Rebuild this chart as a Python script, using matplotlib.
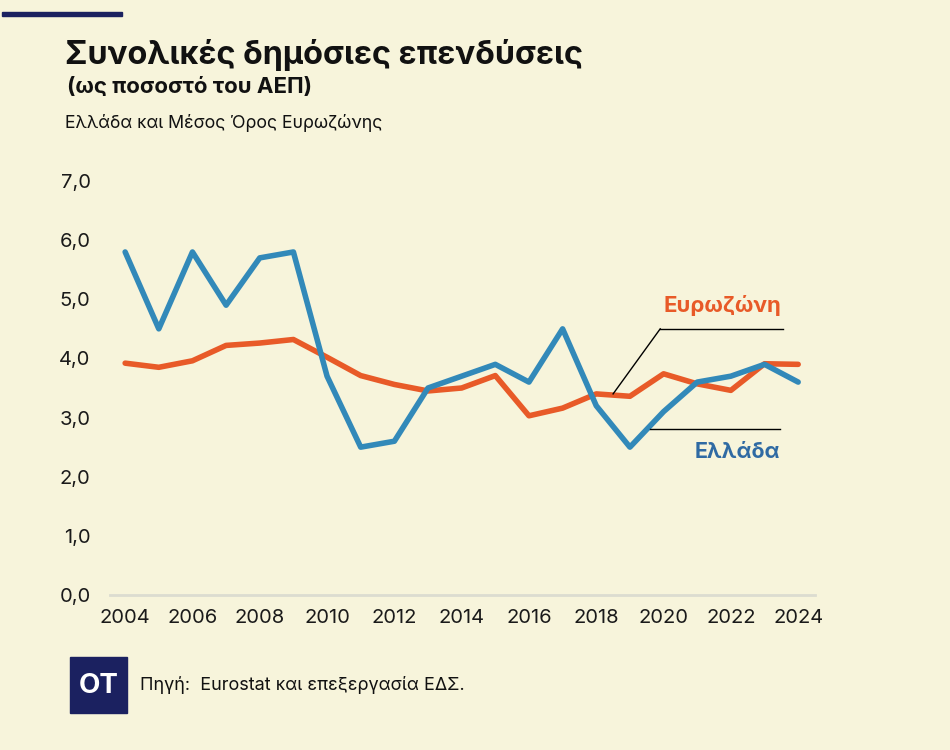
import matplotlib
matplotlib.use("Agg")
import matplotlib.pyplot as plt
from matplotlib.patches import Rectangle
from matplotlib.ticker import FuncFormatter, FixedLocator

years = list(range(2004, 2025))
greece = [5.8, 4.5, 5.8, 4.9, 5.7, 5.8, 3.7, 2.5, 2.6, 3.5, 3.7, 3.9, 3.6, 4.5, 3.2, 2.5, 3.1, 3.6, 3.7, 3.9, 3.6]
eurozone = [3.92, 3.85, 3.96, 4.22, 4.26, 4.32, 4.02, 3.71, 3.56, 3.45, 3.5, 3.71, 3.03, 3.16, 3.4, 3.36, 3.74, 3.57, 3.46, 3.91, 3.9]
yticks = [0, 1, 2, 3, 4, 5, 6, 7]
xticks = list(range(2004, 2025, 2))

BG = "#f7f4db"
BLUE = "#3289b9"
ORANGE = "#e85a28"
BLUE_TXT = "#2f6aa3"
NAVY = "#1b2160"

plt.rcParams['font.family'] = ['Inter', 'DejaVu Sans']

fig = plt.figure(figsize=(9.5, 7.5), dpi=100, facecolor=BG)
ax = fig.add_axes([110/950, 1-595/750, (815-110)/950, (595-181)/750])
ax.set_facecolor(BG)

ax.plot(years, eurozone, color=ORANGE, lw=4, solid_joinstyle='round', solid_capstyle='round', zorder=3)
ax.plot(years, greece, color=BLUE, lw=4, solid_joinstyle='round', solid_capstyle='round', zorder=4)

ax.set_xlim(2003.55, 2024.5)
ax.set_ylim(0, 7)
ax.yaxis.set_major_locator(FixedLocator(yticks))
ax.xaxis.set_major_locator(FixedLocator(xticks))
ax.yaxis.set_major_formatter(FuncFormatter(lambda v, p: f"{v:.1f}".replace('.', ',')))
ax.xaxis.set_major_formatter(FuncFormatter(lambda v, p: f"{int(v)}"))
for s in ['top', 'right', 'left']:
    ax.spines[s].set_visible(False)
ax.spines['bottom'].set_color('#dcdcd0')
ax.spines['bottom'].set_linewidth(2)
ax.tick_params(axis='both', length=0, labelsize=14.5, colors='#1a1a1a')
ax.tick_params(axis='y', pad=14)
ax.tick_params(axis='x', pad=10)

# annotations
ax.plot([2018.5, 2019.9], [3.40, 4.5], color='black', lw=1, zorder=5)
ax.plot([2019.9, 2023.55], [4.5, 4.5], color='black', lw=1, zorder=5)
ax.text(2023.5, 4.72, "Ευρωζώνη", color=ORANGE, fontsize=16, fontweight='bold', ha='right', va='bottom')
ax.plot([2019.6, 2023.47], [2.8, 2.8], color='black', lw=1, zorder=5)
ax.text(2023.47, 2.42, "Ελλάδα", color=BLUE_TXT, fontsize=15.5, fontweight='bold', ha='right', va='center')

# header
fig.add_artist(Rectangle((2/950, 1-16/750), 120/950, 4/750, color=NAVY, transform=fig.transFigure))
fig.text(65/950, 1-55/750, "Συνολικές δημόσιες επενδύσεις", fontsize=23.3, fontweight='bold', color='#111111', va='center')
fig.text(67/950, 1-87/750, "(ως ποσοστό του ΑΕΠ)", fontsize=16, fontweight='bold', color='#111111', va='center')
fig.text(65/950, 1-123/750, "Ελλάδα και Μέσος Όρος Ευρωζώνης", fontsize=12.8, color='#111111', va='center')

# footer
fig.add_artist(Rectangle((70/950, 1-713/750), 57/950, 56/750, color=NAVY, transform=fig.transFigure))
fig.text(98.5/950, 1-686/750, "ΟΤ", fontsize=20, fontweight='bold', color='white', ha='center', va='center')
fig.text(140/950, 1-685/750, "Πηγή:  Eurostat και επεξεργασία ΕΔΣ.", fontsize=13, color='#111111', va='center')

fig.savefig("out.png", dpi=100, facecolor=BG)
